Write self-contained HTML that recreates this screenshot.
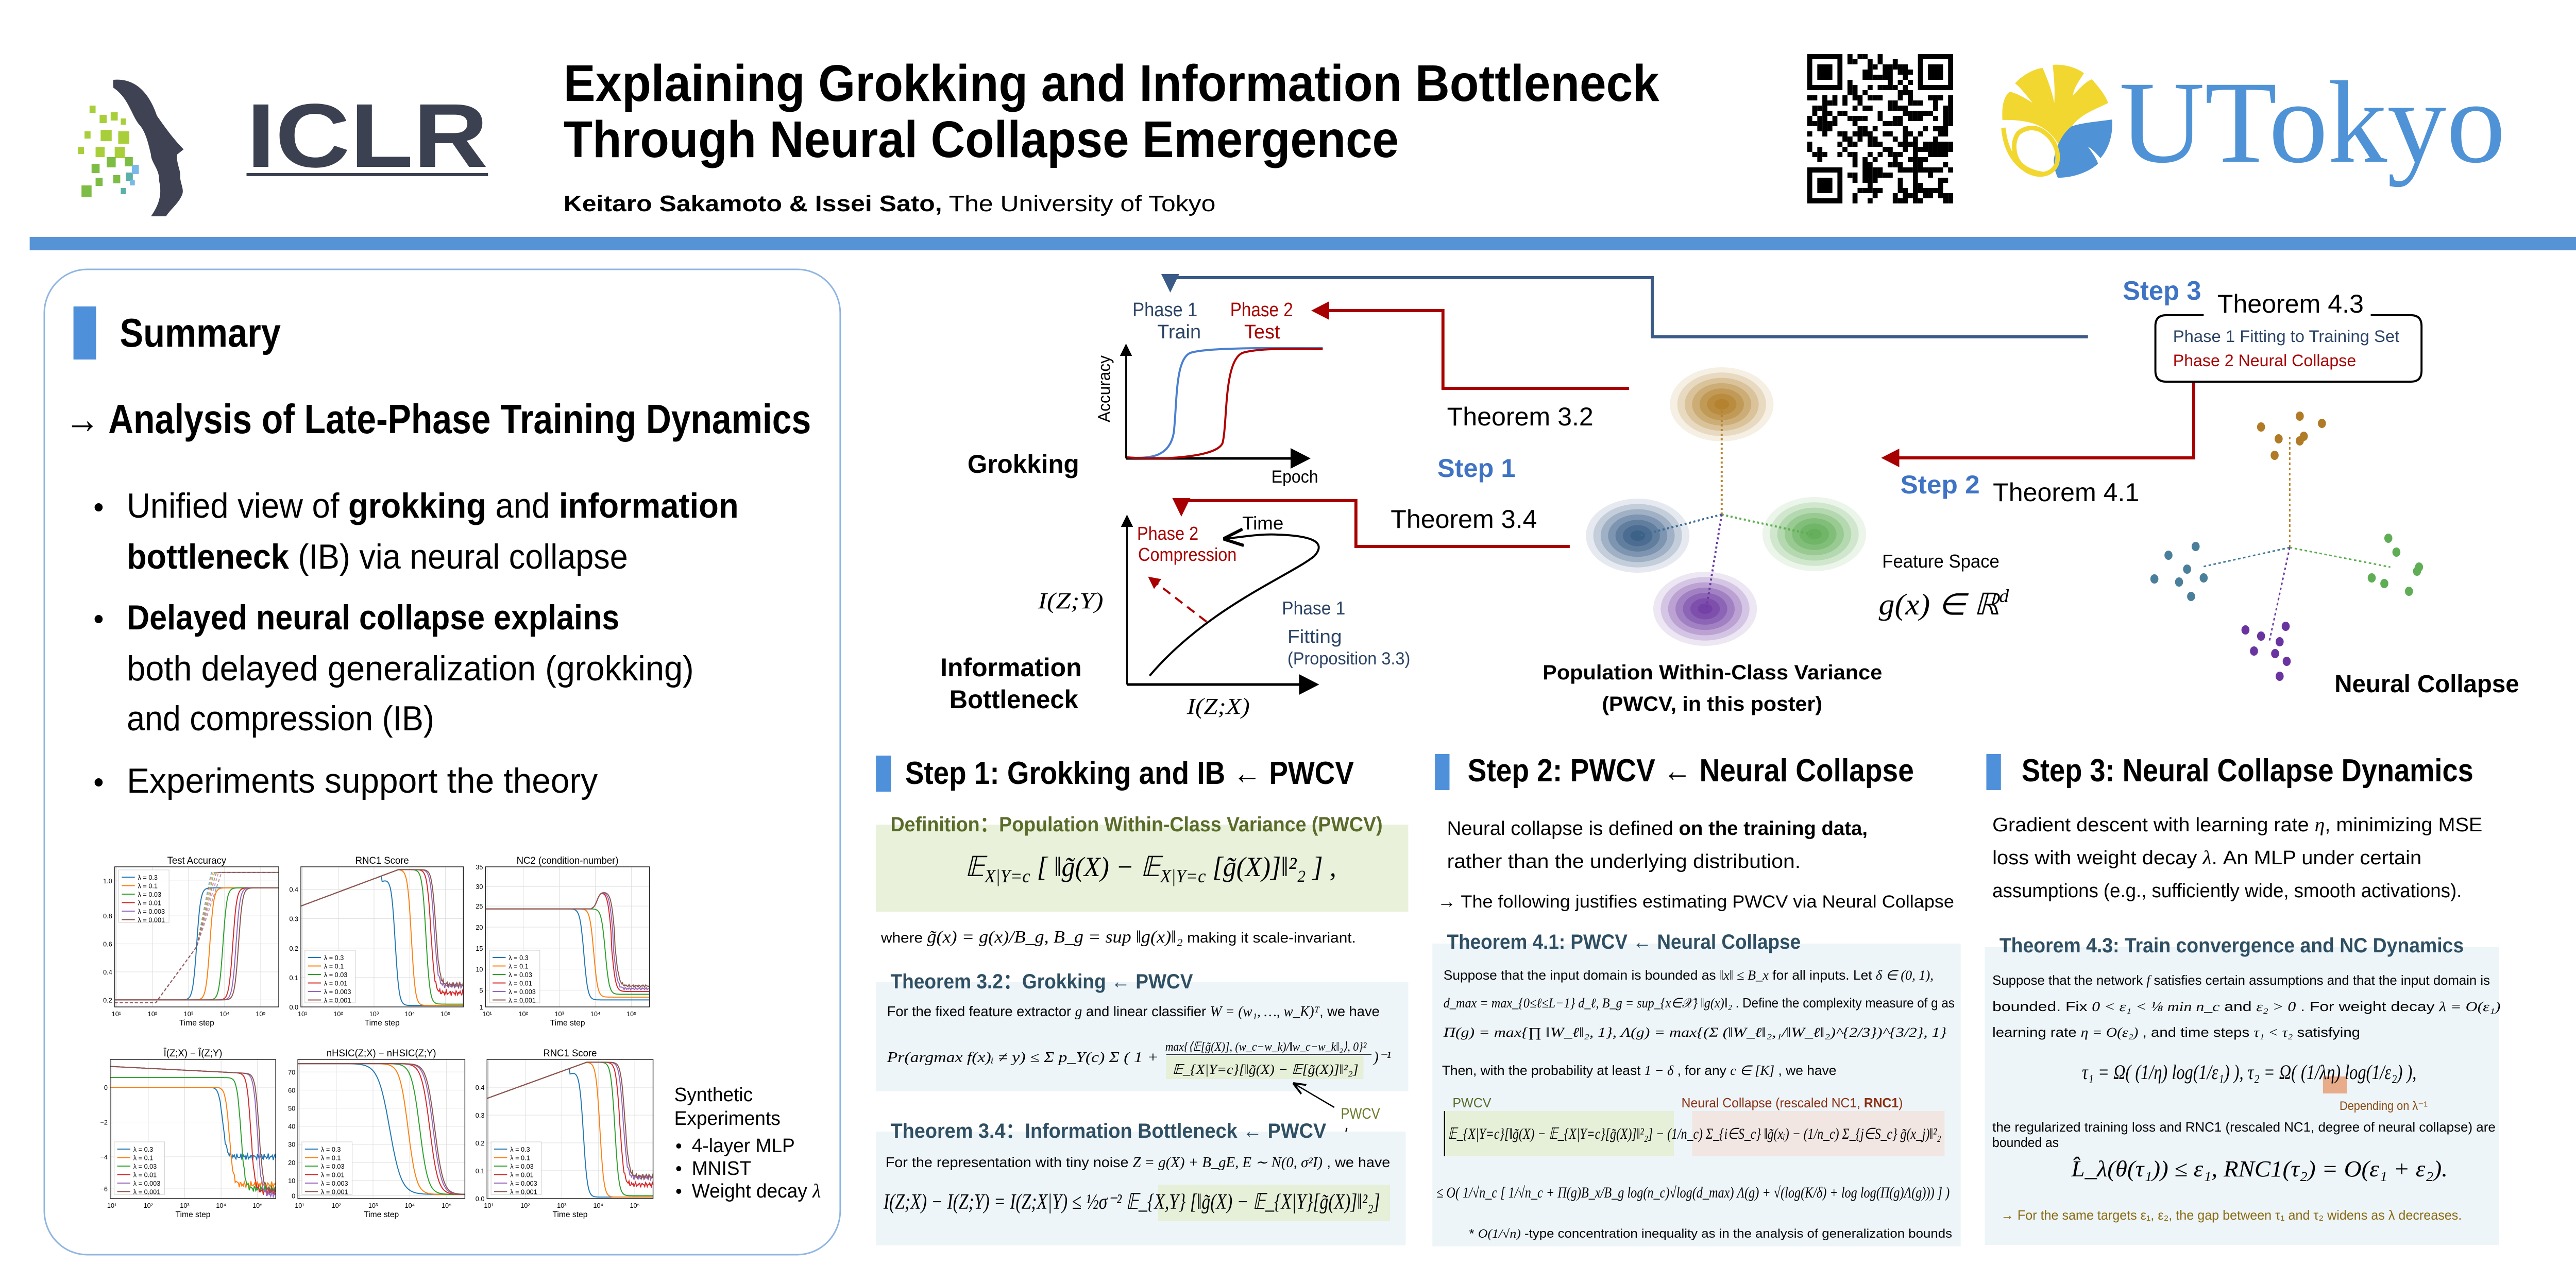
<!DOCTYPE html>
<html><head><meta charset="utf-8">
<style>
html,body{margin:0;padding:0;background:#fff;overflow:hidden;width:100%;height:100%;}
svg{display:block;width:100vw;height:100vh;}
text{font-family:"Liberation Sans",sans-serif;}
.s{font-family:"Liberation Serif",serif;font-style:italic;}
</style></head>
<body>
<svg id="P" xmlns="http://www.w3.org/2000/svg" viewBox="0 0 5120 2491" preserveAspectRatio="none">
<defs>
<marker id="ar" markerWidth="6" markerHeight="6" refX="5" refY="3" orient="auto" markerUnits="strokeWidth"><path d="M0,0 L6,3 L0,6 z" fill="#a80000"/></marker>
<marker id="ab" markerWidth="6" markerHeight="6" refX="5" refY="3" orient="auto" markerUnits="strokeWidth"><path d="M0,0 L6,3 L0,6 z" fill="#3a5a88"/></marker>
<marker id="ak" markerWidth="8" markerHeight="8" refX="7" refY="4" orient="auto" markerUnits="strokeWidth"><path d="M0,0 L8,4 L0,8 z" fill="#000"/></marker>
<marker id="akt" markerWidth="10" markerHeight="10" refX="9" refY="5" orient="auto" markerUnits="strokeWidth"><path d="M0,1 L10,5 L0,9" fill="none" stroke="#000" stroke-width="1.5"/></marker>
</defs>
<rect width="5120" height="2491" fill="#fff"/>

<!-- ICLR logo -->
<g>
<path d="M225,155 C275,150 300,190 312,225 C330,250 345,270 365,290 L352,300 C350,318 360,330 358,345 C360,360 366,368 362,378 C355,395 340,405 330,420 L300,420 C318,395 322,375 316,350 C318,330 300,315 300,300 C295,280 290,255 275,240 C260,220 255,190 225,170 Z" fill="#3e4252"/>
<g fill="#a8cf3a">
<rect x="178" y="205" width="12" height="14"/><rect x="198" y="223" width="14" height="16"/><rect x="220" y="218" width="14" height="16"/><rect x="240" y="230" width="10" height="12"/>
<rect x="168" y="255" width="12" height="14"/><rect x="200" y="252" width="22" height="22"/><rect x="235" y="255" width="22" height="24"/>
<rect x="155" y="285" width="12" height="14"/><rect x="190" y="285" width="18" height="20"/><rect x="228" y="285" width="20" height="22"/>
</g>
<g fill="#7dbd45">
<rect x="182" y="318" width="16" height="18"/><rect x="212" y="305" width="18" height="20"/><rect x="248" y="305" width="16" height="18"/>
<rect x="190" y="345" width="14" height="16"/><rect x="225" y="340" width="14" height="16"/><rect x="162" y="360" width="20" height="22"/>
</g>
<g fill="#5bb0a8"><rect x="250" y="335" width="14" height="16"/><rect x="240" y="365" width="10" height="12"/></g>
<g fill="#7ab8e8"><rect x="262" y="320" width="14" height="18"/><rect x="258" y="350" width="10" height="10"/></g>
<text x="490" y="324" font-size="176" font-weight="bold" fill="#3b4150" textLength="480" lengthAdjust="spacingAndGlyphs">ICLR</text>
<rect x="490" y="336" width="480" height="6" fill="#3b4150"/>
</g>

<!-- Title -->
<text x="1120" y="196" font-size="100" font-weight="bold" fill="#000" textLength="2178" lengthAdjust="spacingAndGlyphs">Explaining Grokking and Information Bottleneck</text>
<text x="1120" y="305" font-size="100" font-weight="bold" fill="#000" textLength="1660" lengthAdjust="spacingAndGlyphs">Through Neural Collapse Emergence</text>
<text x="1120" y="410" font-size="44" fill="#000" textLength="1296" lengthAdjust="spacingAndGlyphs"><tspan font-weight="bold">Keitaro Sakamoto &amp; Issei Sato,</tspan> The University of Tokyo</text>

<!-- QR -->
<g id="qr"></g>

<!-- UTokyo logo -->
<g>
<path d="M3980,233 C3978,200 3985,185 3995,178 C4010,182 4025,190 4040,200 C4020,175 4010,165 4005,162 C4020,145 4045,133 4060,132 C4070,155 4078,175 4083,200 C4085,170 4082,148 4080,126 C4100,124 4125,130 4142,142 C4132,158 4122,170 4120,186 C4130,175 4145,158 4158,154 C4172,170 4185,185 4190,200 C4170,210 4140,220 4122,240 C4110,255 4102,275 4100,300 C4092,278 4080,260 4060,248 C4040,236 4010,232 3980,233 Z" fill="#f2d731"/>
<path d="M4082,310 C4088,280 4100,258 4118,245 C4140,238 4170,236 4198,232 C4200,265 4190,290 4175,307 C4168,300 4160,290 4150,285 C4160,298 4168,310 4170,318 C4150,335 4120,345 4090,345 C4085,335 4082,322 4082,310 Z" fill="#4f93d6"/>
<path d="M3982,248 C3985,285 4000,315 4030,332 C4055,345 4080,338 4088,318 C4095,292 4080,265 4055,252 C4040,246 4025,248 4012,258 C4000,272 4000,300 4015,318 C4025,328 4040,335 4060,338" fill="none" stroke="#f2d731" stroke-width="9"/>
<text x="4212" y="314" font-size="228" fill="#4f93d6" textLength="768" lengthAdjust="spacingAndGlyphs" style="font-family:'Liberation Serif',serif">UTokyo</text>
</g>

<rect x="59" y="460" width="5061" height="26" fill="#5593d6"/>

<!-- Summary panel -->
<rect x="88" y="523" width="1582" height="1913" rx="85" fill="#fff" stroke="#8fb6e2" stroke-width="3"/>
<rect x="146" y="595" width="45" height="103" fill="#4f90db"/>
<text x="238" y="673" font-size="78" font-weight="bold" textLength="320" lengthAdjust="spacingAndGlyphs">Summary</text>
<text x="129" y="841" font-size="80" font-weight="bold" textLength="1483" lengthAdjust="spacingAndGlyphs">→ Analysis of Late-Phase Training Dynamics</text>
<g font-size="68">
<circle cx="196" cy="985" r="8" fill="#000"/>
<text x="252" y="1005" textLength="1216" lengthAdjust="spacingAndGlyphs">Unified view of <tspan font-weight="bold">grokking</tspan> and <tspan font-weight="bold">information</tspan></text>
<text x="252" y="1104" textLength="996" lengthAdjust="spacingAndGlyphs"><tspan font-weight="bold">bottleneck</tspan> (IB) via neural collapse</text>
<circle cx="196" cy="1202" r="8" fill="#000"/>
<text x="252" y="1222" font-weight="bold" textLength="979" lengthAdjust="spacingAndGlyphs">Delayed neural collapse explains</text>
<text x="252" y="1321" textLength="1127" lengthAdjust="spacingAndGlyphs">both delayed generalization (grokking)</text>
<text x="252" y="1418" textLength="611" lengthAdjust="spacingAndGlyphs">and compression (IB)</text>
<circle cx="196" cy="1519" r="8" fill="#000"/>
<text x="252" y="1539" textLength="936" lengthAdjust="spacingAndGlyphs">Experiments support the theory</text>
</g>
<g id="plots"></g>
<g font-size="38">
<text x="1340" y="2138">Synthetic</text>
<text x="1340" y="2184">Experiments</text>
<circle cx="1349" cy="2225" r="5"/><text x="1375" y="2237">4-layer MLP</text>
<circle cx="1349" cy="2269" r="5"/><text x="1375" y="2281">MNIST</text>
<circle cx="1349" cy="2313" r="5"/><text x="1375" y="2325">Weight decay <tspan class="s">λ</tspan></text>
</g>

<!-- Top diagram connectors -->
<polyline points="4150,654 3284,654 3284,539 2326,539 2326,562" fill="none" stroke="#3a5a88" stroke-width="6" marker-end="url(#ab)"/>
<polyline points="3238,754 2868,754 2868,603 2612,603" fill="none" stroke="#a80000" stroke-width="6" marker-end="url(#ar)"/>
<polyline points="3120,1061 2695,1061 2695,972 2348,972 2348,997" fill="none" stroke="#a80000" stroke-width="6" marker-end="url(#ar)"/>
<polyline points="4360,740 4360,889 3745,889" fill="none" stroke="#a80000" stroke-width="6" marker-end="url(#ar)"/>

<g font-size="38">
<text x="2251" y="614" fill="#2c4466" textLength="129" lengthAdjust="spacingAndGlyphs">Phase 1</text>
<text x="2300" y="657" fill="#2c4466" textLength="87" lengthAdjust="spacingAndGlyphs">Train</text>
<text x="2445" y="614" fill="#a80000" textLength="125" lengthAdjust="spacingAndGlyphs">Phase 2</text>
<text x="2473" y="657" fill="#a80000" textLength="71" lengthAdjust="spacingAndGlyphs">Test</text>
</g>
<!-- accuracy plot -->
<line x1="2238" y1="890" x2="2238" y2="670" stroke="#000" stroke-width="3" marker-end="url(#ak)"/>
<line x1="2238" y1="890" x2="2600" y2="890" stroke="#000" stroke-width="5" marker-end="url(#ak)"/>
<path d="M2240,888 C2290,892 2325,885 2333,840 C2340,780 2335,690 2370,684 C2400,676 2500,675 2629,676" fill="none" stroke="#4a7fd0" stroke-width="4"/>
<path d="M2240,888 C2330,894 2420,885 2430,860 C2440,820 2432,700 2470,685 C2500,676 2560,677 2629,678" fill="none" stroke="#b00000" stroke-width="4"/>
<text transform="translate(2206,820) rotate(-90)" font-size="34" textLength="130" lengthAdjust="spacingAndGlyphs">Accuracy</text>
<text x="2527" y="937" font-size="34" textLength="93" lengthAdjust="spacingAndGlyphs">Epoch</text>
<text x="1923" y="918" font-size="50" font-weight="bold" textLength="222" lengthAdjust="spacingAndGlyphs">Grokking</text>
<text x="2876" y="826" font-size="50" textLength="291" lengthAdjust="spacingAndGlyphs">Theorem 3.2</text>
<text x="2857" y="926" font-size="50" font-weight="bold" fill="#3f73c4" textLength="155" lengthAdjust="spacingAndGlyphs">Step 1</text>
<text x="2764" y="1025" font-size="50" textLength="291" lengthAdjust="spacingAndGlyphs">Theorem 3.4</text>

<!-- IB plot -->
<line x1="2240" y1="1329" x2="2240" y2="1002" stroke="#000" stroke-width="3" marker-end="url(#ak)"/>
<line x1="2240" y1="1329" x2="2617" y2="1329" stroke="#000" stroke-width="5" marker-end="url(#ak)"/>
<path d="M2285,1312 C2400,1180 2560,1120 2612,1080 C2640,1050 2600,1040 2540,1038 C2500,1036 2460,1044 2435,1046" fill="none" stroke="#000" stroke-width="4" marker-end="url(#akt)"/>
<line x1="2398" y1="1207" x2="2285" y2="1122" stroke="#b00000" stroke-width="4" stroke-dasharray="18,12" marker-end="url(#ar)"/>
<text x="2469" y="1028" font-size="36" textLength="82" lengthAdjust="spacingAndGlyphs">Time</text>
<text x="2260" y="1048" font-size="36" fill="#a80000" textLength="122" lengthAdjust="spacingAndGlyphs">Phase 2</text>
<text x="2262" y="1089" font-size="36" fill="#a80000" textLength="196" lengthAdjust="spacingAndGlyphs">Compression</text>
<text x="2063" y="1181" font-size="44" class="s" textLength="130" lengthAdjust="spacingAndGlyphs">I(Z;Y)</text>
<text x="2359" y="1386" font-size="44" class="s" textLength="125" lengthAdjust="spacingAndGlyphs">I(Z;X)</text>
<text x="2548" y="1193" font-size="36" fill="#2c4466" textLength="126" lengthAdjust="spacingAndGlyphs">Phase 1</text>
<text x="2559" y="1248" font-size="36" fill="#2c4466" textLength="108" lengthAdjust="spacingAndGlyphs">Fitting</text>
<text x="2559" y="1290" font-size="34" fill="#2c4466" textLength="244" lengthAdjust="spacingAndGlyphs">(Proposition 3.3)</text>
<text x="1869" y="1313" font-size="50" font-weight="bold" textLength="281" lengthAdjust="spacingAndGlyphs">Information</text>
<text x="1887" y="1375" font-size="50" font-weight="bold" textLength="256" lengthAdjust="spacingAndGlyphs">Bottleneck</text>

<!-- blobs -->
<g id="blobs"></g>
<g stroke-width="4" stroke-dasharray="4,5" fill="none">
<line x1="3422" y1="999" x2="3422" y2="790" stroke="#b5832a"/>
<line x1="3422" y1="999" x2="3258" y2="1040" stroke="#3d6e96"/>
<line x1="3422" y1="999" x2="3603" y2="1038" stroke="#5aad4e"/>
<line x1="3422" y1="999" x2="3392" y2="1178" stroke="#6a3aa0"/>
</g>
<text x="3741" y="1102" font-size="36" textLength="233" lengthAdjust="spacingAndGlyphs">Feature Space</text>
<text x="3734" y="1193" font-size="58" class="s" textLength="259" lengthAdjust="spacingAndGlyphs">g(x) ∈ ℝ<tspan font-size="36" dy="-24">d</tspan></text>
<text x="3066" y="1319" font-size="40" font-weight="bold" textLength="675" lengthAdjust="spacingAndGlyphs">Population Within-Class Variance</text>
<text x="3184" y="1380" font-size="40" font-weight="bold" textLength="438" lengthAdjust="spacingAndGlyphs">(PWCV, in this poster)</text>

<!-- Step 3 box -->
<text x="4219" y="582" font-size="52" font-weight="bold" fill="#3f73c4" textLength="156" lengthAdjust="spacingAndGlyphs">Step 3</text>
<text x="4407" y="607" font-size="50" textLength="291" lengthAdjust="spacingAndGlyphs">Theorem 4.3</text>
<path d="M4380,612 L4305,612 Q4284,612 4284,633 L4284,720 Q4284,741 4305,741 L4792,741 Q4813,741 4813,720 L4813,633 Q4813,612 4792,612 L4712,612" fill="none" stroke="#000" stroke-width="4"/>
<text x="4319" y="664" font-size="32" fill="#2c4466" textLength="450" lengthAdjust="spacingAndGlyphs">Phase 1  Fitting to Training Set</text>
<text x="4319" y="711" font-size="32" fill="#a80000" textLength="364" lengthAdjust="spacingAndGlyphs">Phase 2  Neural Collapse</text>
<text x="3777" y="958" font-size="50" font-weight="bold" fill="#3f73c4" textLength="158" lengthAdjust="spacingAndGlyphs">Step 2</text>
<text x="3961" y="973" font-size="50" textLength="291" lengthAdjust="spacingAndGlyphs">Theorem 4.1</text>

<!-- neural collapse scatter -->
<g stroke-width="3" stroke-dasharray="5,5" fill="none">
<line x1="4551" y1="1063" x2="4551" y2="843" stroke="#b5832a"/>
<line x1="4551" y1="1063" x2="4375" y2="1101" stroke="#3d7896"/>
<line x1="4551" y1="1063" x2="4751" y2="1101" stroke="#5aad4e"/>
<line x1="4551" y1="1063" x2="4510" y2="1247" stroke="#6a3aa0"/>
</g>
<g id="dots"></g>
<text x="4640" y="1344" font-size="48" font-weight="bold" textLength="367" lengthAdjust="spacingAndGlyphs">Neural Collapse</text>

<!-- STEP 1 -->
<rect x="1741" y="1467" width="30" height="70" fill="#4f90db"/>
<text x="1799" y="1522" font-size="62" font-weight="bold" textLength="892" lengthAdjust="spacingAndGlyphs">Step 1: Grokking and IB ← PWCV</text>
<rect x="1741" y="1601" width="1058" height="169" fill="#e9f1da"/>
<text x="1770" y="1614" font-size="40" font-weight="bold" fill="#5a6b2a" textLength="978" lengthAdjust="spacingAndGlyphs">Definition：Population Within-Class Variance (PWCV)</text>
<text x="1918" y="1701" font-size="54" class="s" textLength="738" lengthAdjust="spacingAndGlyphs">𝔼<tspan font-size="36" dy="12">X|Y=c</tspan><tspan dy="-12"> [ ‖g̃(X) − 𝔼</tspan><tspan font-size="36" dy="12">X|Y=c</tspan><tspan dy="-12"> [g̃(X)]‖²₂ ] ,</tspan></text>
<text x="1751" y="1830" font-size="28" textLength="944" lengthAdjust="spacingAndGlyphs">where  <tspan class="s" font-size="34">g̃(x) = g(x)/B_g, B_g = sup ‖g(x)‖₂</tspan>  making it scale-invariant.</text>

<rect x="1741" y="1907" width="1058" height="212" fill="#edf5f9"/>
<text x="1770" y="1919" font-size="40" font-weight="bold" fill="#2f4f63" textLength="601" lengthAdjust="spacingAndGlyphs">Theorem 3.2：Grokking ← PWCV</text>
<text x="1763" y="1973" font-size="28" textLength="979" lengthAdjust="spacingAndGlyphs">For the fixed feature extractor  <tspan class="s">g</tspan>  and linear classifier  <tspan class="s">W = (w₁, …, w_K)ᵀ</tspan>, we have</text>
<rect x="2318" y="2050" width="392" height="45" fill="#e6efd8"/>
<line x1="2318" y1="2047" x2="2726" y2="2047" stroke="#000" stroke-width="1.5"/>
<text x="2316" y="2040" font-size="24" class="s" textLength="400" lengthAdjust="spacingAndGlyphs">max{⟨𝔼[g̃(X)], (w_c−w_k)/‖w_c−w_k‖₂⟩, 0}²</text>
<text x="1763" y="2062" font-size="28" class="s" textLength="540" lengthAdjust="spacingAndGlyphs">Pr(argmax f(x)ᵢ ≠ y) ≤ Σ p_Y(c) Σ ( 1 +</text>
<text x="2330" y="2085" font-size="26" class="s" textLength="370" lengthAdjust="spacingAndGlyphs">𝔼_{X|Y=c}[‖g̃(X) − 𝔼[g̃(X)]‖²₂]</text>
<text x="2730" y="2062" font-size="30" class="s">)⁻¹</text>
<line x1="2652" y1="2150" x2="2572" y2="2104" stroke="#000" stroke-width="2.5" marker-end="url(#akt)"/>
<text x="2665" y="2172" font-size="30" fill="#6b7a2a" textLength="78" lengthAdjust="spacingAndGlyphs">PWCV</text>
<line x1="2677" y1="2190" x2="2650" y2="2292" stroke="#000" stroke-width="2.5" marker-end="url(#akt)"/>

<rect x="1741" y="2197" width="1053" height="221" fill="#edf5f9"/>
<text x="1770" y="2209" font-size="40" font-weight="bold" fill="#2f4f63" textLength="866" lengthAdjust="spacingAndGlyphs">Theorem 3.4：Information Bottleneck ← PWCV</text>
<text x="1760" y="2266" font-size="28" textLength="1003" lengthAdjust="spacingAndGlyphs">For the representation with tiny noise  <tspan class="s">Z = g(X) + B_gE,  E ∼ N(0, σ²I)</tspan> , we have</text>
<rect x="2302" y="2300" width="461" height="71" fill="#e6efd8"/>
<text x="1756" y="2347" font-size="42" class="s" textLength="987" lengthAdjust="spacingAndGlyphs">I(Z;X) − I(Z;Y) = I(Z;X|Y) ≤ ½σ⁻² 𝔼_{X,Y} [‖g̃(X) − 𝔼_{X|Y}[g̃(X)]‖²₂]</text>

<!-- STEP 2 -->
<rect x="2852" y="1464" width="29" height="70" fill="#4f90db"/>
<text x="2917" y="1517" font-size="62" font-weight="bold" textLength="887" lengthAdjust="spacingAndGlyphs">Step 2: PWCV ← Neural Collapse</text>
<text x="2876" y="1621" font-size="38" textLength="836" lengthAdjust="spacingAndGlyphs">Neural collapse is defined <tspan font-weight="bold">on the training data,</tspan></text>
<text x="2876" y="1685" font-size="38" textLength="703" lengthAdjust="spacingAndGlyphs">rather than the underlying distribution.</text>
<text x="2857" y="1762" font-size="34" textLength="1027" lengthAdjust="spacingAndGlyphs">→ The following justifies estimating PWCV via Neural Collapse</text>
<rect x="2847" y="1832" width="1050" height="588" fill="#edf5f9"/>
<text x="2876" y="1842" font-size="40" font-weight="bold" fill="#2f4f63" textLength="703" lengthAdjust="spacingAndGlyphs">Theorem 4.1: PWCV ← Neural Collapse</text>
<g font-size="26">
<text x="2869" y="1902" textLength="974" lengthAdjust="spacingAndGlyphs">Suppose that the input domain is bounded as <tspan class="s">‖x‖ ≤ B_x</tspan> for all inputs. Let <tspan class="s">δ ∈ (0, 1),</tspan></text>
<text x="2869" y="1956" textLength="1016" lengthAdjust="spacingAndGlyphs"><tspan class="s">d_max = max_{0≤ℓ≤L−1} d_ℓ,  B_g = sup_{x∈𝒳} ‖g(x)‖₂</tspan> . Define the complexity measure of g as</text>
<text x="2869" y="2013" class="s" textLength="1000" lengthAdjust="spacingAndGlyphs">Π(g) = max{∏ ‖W_ℓ‖₂, 1},  Λ(g) = max{(Σ (‖W_ℓ‖₂,₁/‖W_ℓ‖₂)^{2/3})^{3/2}, 1}</text>
<text x="2866" y="2087" textLength="784" lengthAdjust="spacingAndGlyphs">Then, with the probability at least <tspan class="s">1 − δ</tspan> , for any <tspan class="s">c ∈ [K]</tspan> , we have</text>
</g>
<text x="2887" y="2150" font-size="26" fill="#5a6b2a" textLength="77" lengthAdjust="spacingAndGlyphs">PWCV</text>
<text x="3342" y="2150" font-size="26" fill="#8b2e10" textLength="440" lengthAdjust="spacingAndGlyphs">Neural Collapse (rescaled NC1, <tspan font-weight="bold">RNC1</tspan>)</text>
<rect x="2869" y="2157" width="458" height="88" fill="#e6efd8"/>
<rect x="3363" y="2157" width="502" height="88" fill="#f1e6e2"/>
<line x1="2871" y1="2157" x2="2871" y2="2245" stroke="#000" stroke-width="2"/>
<text x="2878" y="2211" font-size="30" class="s" textLength="980" lengthAdjust="spacingAndGlyphs">𝔼_{X|Y=c}[‖g̃(X) − 𝔼_{X|Y=c}[g̃(X)]‖²₂] − (1/n_c) Σ_{i∈S_c} ‖g̃(xᵢ) − (1/n_c) Σ_{j∈S_c} g̃(x_j)‖²₂</text>
<text x="2855" y="2325" font-size="30" class="s" textLength="1020" lengthAdjust="spacingAndGlyphs">≤ O( 1/√n_c [ 1/√n_c + Π(g)B_x/B_g log(n_c)√log(d_max) Λ(g) + √(log(K/δ) + log log(Π(g)Λ(g))) ] )</text>
<text x="2920" y="2403" font-size="24" textLength="960" lengthAdjust="spacingAndGlyphs">* <tspan class="s">O(1/√n)</tspan> -type concentration inequality as in the analysis of  generalization bounds</text>

<!-- STEP 3 -->
<rect x="3948" y="1464" width="29" height="70" fill="#4f90db"/>
<text x="4018" y="1517" font-size="62" font-weight="bold" textLength="898" lengthAdjust="spacingAndGlyphs">Step 3: Neural Collapse Dynamics</text>
<g font-size="38">
<text x="3960" y="1614" textLength="974" lengthAdjust="spacingAndGlyphs">Gradient descent with learning rate <tspan class="s">η</tspan>, minimizing MSE</text>
<text x="3960" y="1678" textLength="853" lengthAdjust="spacingAndGlyphs">loss with weight decay <tspan class="s">λ</tspan>.  An MLP under certain</text>
<text x="3960" y="1742" textLength="933" lengthAdjust="spacingAndGlyphs">assumptions (e.g., sufficiently wide, smooth activations).</text>
</g>
<rect x="3945" y="1839" width="1022" height="578" fill="#edf5f9"/>
<text x="3974" y="1849" font-size="40" font-weight="bold" fill="#2f4f63" textLength="923" lengthAdjust="spacingAndGlyphs">Theorem 4.3: Train convergence and NC Dynamics</text>
<g font-size="26">
<text x="3960" y="1912" textLength="989" lengthAdjust="spacingAndGlyphs">Suppose that the network <tspan class="s">f</tspan> satisfies certain assumptions and that the input domain is</text>
<text x="3960" y="1963" textLength="1010" lengthAdjust="spacingAndGlyphs">bounded.  Fix <tspan class="s">0 &lt; ε₁ &lt; ⅛ min n_c</tspan> and <tspan class="s">ε₂ &gt; 0</tspan> . For weight decay <tspan class="s">λ = O(ε₁)</tspan></text>
<text x="3960" y="2013" textLength="731" lengthAdjust="spacingAndGlyphs">learning rate <tspan class="s">η = O(ε₂)</tspan> , and time steps <tspan class="s">τ₁ &lt; τ₂</tspan> satisfying</text>
</g>
<rect x="4617" y="2090" width="48" height="33" fill="#e8ac8a"/>
<text x="4138" y="2095" font-size="40" class="s" textLength="665" lengthAdjust="spacingAndGlyphs">τ₁ = Ω( (1/η) log(1/ε₁) ),    τ₂ = Ω( (1/λη) log(1/ε₂) ),</text>
<text x="4650" y="2155" font-size="24" fill="#8b4a10" textLength="175" lengthAdjust="spacingAndGlyphs">Depending on λ⁻¹</text>
<text x="3960" y="2197" font-size="26" textLength="1000" lengthAdjust="spacingAndGlyphs">the regularized training loss and RNC1 (rescaled NC1, degree of neural collapse) are</text>
<text x="3960" y="2227" font-size="26" textLength="132" lengthAdjust="spacingAndGlyphs">bounded as</text>
<text x="4117" y="2284" font-size="44" class="s" textLength="748" lengthAdjust="spacingAndGlyphs">L̂_λ(θ(τ₁)) ≤ ε₁,  RNC1(τ₂) = O(ε₁ + ε₂).</text>
<text x="3977" y="2368" font-size="26" fill="#8a6a10" textLength="916" lengthAdjust="spacingAndGlyphs">→ For the same targets ε₁, ε₂, the gap between τ₁ and τ₂ widens as λ decreases.</text>
</svg>

<script>
(function(){
var NS="http://www.w3.org/2000/svg";
function el(t,a,p){var e=document.createElementNS(NS,t);for(var k in a)e.setAttribute(k,a[k]);(p||document.getElementById('P')).appendChild(e);return e;}
var q=document.getElementById('qr');var s=10,N=29,X=3592,Y=105,seed=7;
function rnd(){seed=(seed*16807)%2147483647;return seed/2147483647;}
function fin(cx,cy){el('rect',{x:X+cx*s,y:Y+cy*s,width:7*s,height:7*s,fill:'#000'},q);el('rect',{x:X+(cx+1)*s,y:Y+(cy+1)*s,width:5*s,height:5*s,fill:'#fff'},q);el('rect',{x:X+(cx+2)*s,y:Y+(cy+2)*s,width:3*s,height:3*s,fill:'#000'},q);}
for(var i=0;i<N;i++)for(var j=0;j<N;j++){if((i<8&&j<8)||(i<8&&j>N-9)||(i>N-9&&j<8))continue;if(rnd()<0.5)el('rect',{x:X+j*s,y:Y+i*s,width:s,height:s,fill:'#000'},q);}
fin(0,0);fin(N-7,0);fin(0,N-7);
var b=document.getElementById('blobs');
var bl=[[3422,785,'#b07a20'],[3255,1040,'#2f5580'],[3606,1037,'#5aaa50'],[3389,1182,'#6a34a0']];
bl.forEach(function(d){for(var k=0;k<7;k++){var f=1-k/7;el('ellipse',{cx:d[0],cy:d[1],rx:103*f,ry:72*f,fill:d[2],'fill-opacity':0.12+k*0.06},b);}});
var dg=document.getElementById('dots');
var D={'#b07a26':[[4571,808],[4494,829],[4615,822],[4529,852],[4579,847],[4571,856],[4521,884]],
'#4a7f9c':[[4364,1061],[4310,1078],[4347,1105],[4282,1124],[4331,1130],[4380,1122],[4355,1158]],
'#5fae55':[[4747,1045],[4763,1072],[4808,1101],[4804,1109],[4714,1122],[4739,1133],[4788,1148]],
'#6a34a0':[[4543,1216],[4463,1223],[4494,1235],[4531,1246],[4480,1264],[4522,1269],[4545,1284],[4531,1313]]};
for(var c in D)D[c].forEach(function(p){el('ellipse',{cx:p[0],cy:p[1],rx:8,ry:9,fill:c},dg);});
var pg=document.getElementById('plots');
var C=['#1f77b4','#ff7f0e','#2ca02c','#d62728','#9467bd','#8c564b'];
var L=['0.3','0.1','0.03','0.01','0.003','0.001'];
function sig(z){return 1/(1+Math.exp(-z));}
function plot(x,y,w,h,title,yt,fn,legTop,dash){
 el('text',{x:x+w/2,y:y-6,'font-size':19,'text-anchor':'middle'},pg).textContent=title;
 for(var i=0;i<=4;i++){var gx=x+w*(0.01+i*0.22);el('line',{x1:gx,y1:y,x2:gx,y2:y+h,stroke:'#ddd','stroke-width':1},pg);
  var t=el('text',{x:gx,y:y+h+18,'font-size':13,'text-anchor':'middle'},pg);t.textContent='10'+['¹','²','³','⁴','⁵'][i];}
 yt.forEach(function(v){var gy=y+h*(1-v[0]);el('line',{x1:x,y1:gy,x2:x+w,y2:gy,stroke:'#ddd','stroke-width':1},pg);
  el('text',{x:x-5,y:gy+5,'font-size':13,'text-anchor':'end'},pg).textContent=v[1];});
 el('text',{x:x+w/2,y:y+h+36,'font-size':16,'text-anchor':'middle'},pg).textContent='Time step';
 for(var k=0;k<6;k++){
  if(dash){var pd=[];for(var t=0;t<=1.0001;t+=0.01){pd.push((x+t*w).toFixed(1)+','+(y+h*(1-dash(t,k))).toFixed(1));}
   el('polyline',{points:pd.join(' '),fill:'none',stroke:C[k],'stroke-width':2,'stroke-dasharray':'6,4','stroke-opacity':0.6},pg);}
  var pts=[];for(var t=0;t<=1.0001;t+=0.005){var v=fn(t,k);v=Math.max(0,Math.min(1,v));pts.push((x+t*w).toFixed(1)+','+(y+h*(1-v)).toFixed(1));}
  el('polyline',{points:pts.join(' '),fill:'none',stroke:C[k],'stroke-width':2},pg);}
 var lx=x+8,ly=legTop?y+6:y+h-110;
 el('rect',{x:lx,y:ly,width:100,height:102,fill:'#fff','fill-opacity':0.85,stroke:'#ccc'},pg);
 for(var k=0;k<6;k++){var yy=ly+14+k*16.5;el('line',{x1:lx+6,y1:yy,x2:lx+32,y2:yy,stroke:C[k],'stroke-width':2},pg);
  el('text',{x:lx+38,y:yy+5,'font-size':13},pg).textContent='λ = '+L[k];}
 el('rect',{x:x,y:y,width:w,height:h,fill:'none',stroke:'#222','stroke-width':1.5},pg);
}
function nz(t,k){return Math.sin(t*400+k*7)*Math.sin(t*97+k)*0.5;}
var pa=[0.5,0.58,0.66,0.72,0.74,0.755];
plot(228,1683,326,272,'Test Accuracy',[[0.05,'0.2'],[0.25,'0.4'],[0.45,'0.6'],[0.65,'0.8'],[0.9,'1.0']],
 function(t,k){return 0.05+0.8*sig((t-pa[k])/0.012);},true,
 function(t,k){if(t<0.25)return 0.03;if(t<0.5)return 0.03+(t-0.25)*1.6;return Math.min(0.96,0.43+(t-0.5)*(6-k*0.5));});
var pr=[0.58,0.68,0.77,0.8,0.82,0.83],er=[0.01,0.01,0.02,0.1,0.15,0.16];
function rn(t,k){var r=0.72+0.26*Math.min(t/0.6,1);if(k==0&&t>0.5)r-=0.04;var s=sig((t-pr[k])/0.012);return r*(1-s)+(er[k]+(k>2?0.04*nz(t,k):0))*s;}
plot(598,1683,323,272,'RNC1 Score',[[0.0,'0.0'],[0.21,'0.1'],[0.42,'0.2'],[0.63,'0.3'],[0.84,'0.4']],rn,false);
var pn=[0.6,0.66,0.73,0.77,0.78,0.79];
plot(965,1683,326,272,'NC2 (condition-number)',[[0,'1'],[0.12,'5'],[0.27,'10'],[0.42,'15'],[0.57,'20'],[0.72,'25'],[0.86,'30'],[1,'35']],
 function(t,k){var b=0.7+(k>2&&t>0.65&&t<pn[k]?0.12*sig((t-0.68)/0.01):0);var s=sig((t-pn[k])/0.012);return b*(1-s)+(0.05+0.02*k)*s+(k>3?0.02*nz(t,k)*s:0);},false);
var pi=[0.68,0.72,0.79,0.85,0.89,0.9];
plot(219,2057,329,270,'Î(Z;X) − Î(Z;Y)',[[0.8,'0'],[0.55,'−2'],[0.3,'−4'],[0.07,'−6']],
 function(t,k){var b=(k<2?0.8:(k==2?0.87:0.95-0.06*t));var e=[0.3,0.1,0.07,0.05,0.03,0.06][k];var s=sig((t-pi[k])/0.012);return b*(1-s)+(e+0.05*nz(t,k))*s;},false);
var ph=[0.55,0.66,0.73,0.79,0.81,0.82];
plot(592,2057,332,270,'nHSIC(Z;X) − nHSIC(Z;Y)',[[0.02,'0'],[0.13,'10'],[0.26,'20'],[0.39,'30'],[0.52,'40'],[0.65,'50'],[0.78,'60'],[0.91,'70']],
 function(t,k){var s=sig((t-ph[k])/(k==0?0.035:0.025));return 0.97*(1-s)+0.03*s;},false);
plot(968,2057,330,270,'RNC1 Score',[[0.0,'0.0'],[0.2,'0.1'],[0.4,'0.2'],[0.6,'0.3'],[0.8,'0.4']],rn,false);
})();
</script>
</body></html>
